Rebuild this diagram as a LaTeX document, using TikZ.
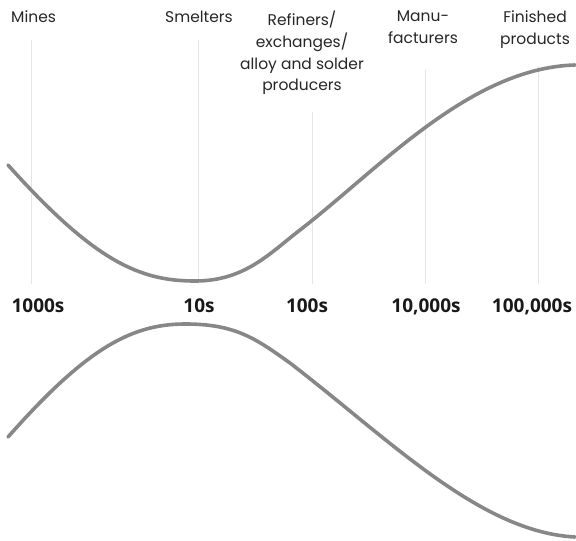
\documentclass[tikz,border=0pt]{standalone}
\usepackage{fontspec}
\setmainfont{Poppins}
\newfontfamily\numfont{Open Sans}
\begin{document}
\begin{tikzpicture}[x=1pt,y=-1pt,
  lab/.style={font=\fontsize{15.5}{21.7}\selectfont, align=center, text=black!85, inner sep=0pt, anchor=north},
  num/.style={font=\numfont\fontsize{19}{22}\selectfont\bfseries, text=black!90, inner sep=0pt, anchor=base},
  guide/.style={draw=black!10, line width=0.8pt},
  curve/.style={draw=black!47, line width=3.6pt, line cap=round}]
\useasboundingbox (0,0) rectangle (576,541);
% labels
\node[lab, anchor=north west] (mines) at (11,11) {Mines};
\node[lab] (smelt) at (199,11) {Smelters};
\node[lab] (refin) at (302,11) {Refiners/\\exchanges/\\alloy and solder\\producers};
\node[lab] (manu) at (423,11) {Manu-\\facturers};
\node[lab] (fin) at (535,11) {Finished\\products};
% numbers
\node[num] (n1) at (38,312) {1000s};
\node[num] (n2) at (199,312) {10s};
\node[num] (n3) at (307,312) {100s};
\node[num] (n4) at (426,312) {10,000s};
\node[num] (n5) at (532,312) {100,000s};
% guide lines
\coordinate (g1) at (31,284);
\coordinate (g2) at (198,284);
\coordinate (g3) at (312,284);
\coordinate (g4) at (425,284);
\coordinate (g5) at (538,284);
\draw[guide] (31,40) -- (g1);
\draw[guide] (198,40) -- (g2);
\draw[guide] (312,112) -- (g3);
\draw[guide] (425,70) -- (g4);
\draw[guide] (538,66) -- (g5);
% curves
\draw[curve] (8,165) .. controls (95,262) and (140,281) .. (195,281)
  .. controls (245,281) and (270,253) .. (300,230)
  .. controls (380,168) and (470,68) .. (575,65);
\draw[curve] (8,437) .. controls (85,350) and (130,324) .. (185,324)
  .. controls (235,324) and (255,338) .. (290,363)
  .. controls (390,440) and (480,532) .. (575,537);
\end{tikzpicture}
\end{document}
